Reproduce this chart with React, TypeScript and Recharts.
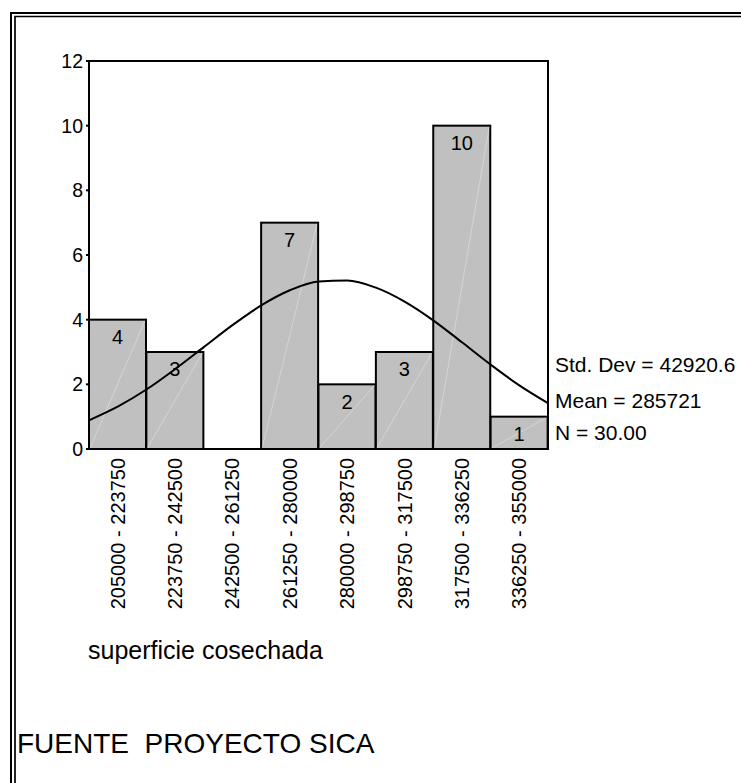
import React from 'react';
import {
  ComposedChart,
  Bar,
  Line,
  XAxis,
  YAxis,
  LabelList,
  ReferenceArea,
} from 'recharts';

const FONT = '"Liberation Sans", Arial, sans-serif';

// Histogram bins (categories) and frequencies
const ranges = [
  '205000 - 223750',
  '223750 - 242500',
  '242500 - 261250',
  '261250 - 280000',
  '280000 - 298750',
  '298750 - 317500',
  '317500 - 336250',
  '336250 - 355000',
];
const counts = [4, 3, 0, 7, 2, 3, 10, 1];

// Fitted normal curve
const curveX = [
  205000, 214375, 223750, 233125, 242500, 251875, 261250, 270625, 280000,
  289375, 298750, 308125, 317500, 326875, 336250, 345625, 355000,
];
const curveY = [
  0.89, 1.31, 1.84, 2.47, 3.15, 3.83, 4.44, 4.91, 5.18, 5.21, 4.99, 4.56,
  3.98, 3.3, 2.61, 1.97, 1.42,
];

const yTicks = [0, 2, 4, 6, 8, 10, 12];
const statLines = ['Std. Dev = 42920.6', 'Mean = 285721', 'N = 30.00'];
const axisTitle = 'superficie cosechada';
const sourceNote = 'FUENTE  PROYECTO SICA';

const barData = ranges.map((r, i) => ({ range: r, count: counts[i] }));
const curveData = curveX.map((x, i) => ({ x, y: curveY[i] }));

const HistBar = (props: any) => {
  const { x, y, width, height } = props;
  if (!height || height <= 0) return null;
  return (
    <g>
      <rect x={x} y={y} width={width} height={height} fill="#c0c0c0" stroke="#000" strokeWidth={2} />
      <line
        x1={x + 1}
        y1={y + height - 1}
        x2={x + width - 1}
        y2={y + 1}
        stroke="#ffffff"
        strokeOpacity={0.55}
        strokeWidth={0.6}
      />
    </g>
  );
};

const XTick = (props: any) => {
  const { x, y, payload } = props;
  return (
    <text
      x={x}
      y={y + 1}
      transform={`rotate(-90, ${x}, ${y + 1})`}
      textAnchor="end"
      dominantBaseline="central"
      fontSize={20}
      fontFamily={FONT}
      fill="#000"
    >
      {payload.value}
    </text>
  );
};

export default function App() {
  return (
    <div style={{ position: 'absolute', left: 0, top: 0, width: 741, height: 783, background: '#fff' }}>
      <ComposedChart
        width={741}
        height={783}
        data={barData}
        margin={{ top: 61, right: 193, left: 0, bottom: 174 }}
        barCategoryGap={0}
        barGap={0}
      >
        <XAxis
          dataKey="range"
          xAxisId="cat"
          height={160}
          interval={0}
          tickLine={false}
          axisLine={{ stroke: '#000', strokeWidth: 2 }}
          tick={<XTick />}
        />
        <XAxis
          xAxisId="num"
          dataKey="x"
          type="number"
          domain={[205000, 355000]}
          hide
          allowDataOverflow
        />
        <YAxis
          domain={[0, 12]}
          ticks={yTicks}
          width={89}
          tickSize={3}
          tickMargin={3}
          interval={0}
          axisLine={{ stroke: '#000', strokeWidth: 2 }}
          tickLine={{ stroke: '#000', strokeWidth: 2 }}
          tick={{ fontSize: 19.5, fill: '#000', fontFamily: FONT }}
        />
        <ReferenceArea
          xAxisId="num"
          x1={205000}
          x2={355000}
          y1={0}
          y2={12}
          fill="none"
          fillOpacity={0}
          stroke="#000"
          strokeWidth={2}
          ifOverflow="visible"
        />
        <Bar
          xAxisId="cat"
          dataKey="count"
          shape={<HistBar />}
          isAnimationActive={false}
        >
          <LabelList
            dataKey="count"
            position="insideTop"
            offset={10}
            formatter={(v: any) => (v ? String(v) : '')}
            style={{ fontSize: 20, fill: '#000', fontFamily: FONT }}
          />
        </Bar>
        <Line
          xAxisId="num"
          data={curveData}
          dataKey="y"
          type="monotone"
          stroke="#000"
          strokeWidth={2}
          dot={false}
          activeDot={false}
          isAnimationActive={false}
        />
      </ComposedChart>
      <svg
        width={741}
        height={783}
        style={{ position: 'absolute', left: 0, top: 0, pointerEvents: 'none' }}
      >
        <polyline points="11,783 11,13 741,13" fill="none" stroke="#000" strokeWidth={2} />
        <polyline points="15,783 15,16.5 741,16.5" fill="none" stroke="#000" strokeWidth={1.7} />
        {statLines.map((s, i) => (
          <text
            key={s}
            x={555}
            y={[372, 408, 440][i]}
            fontSize={21}
            fontFamily={FONT}
            fill="#000"
          >
            {s}
          </text>
        ))}
        <text x={88} y={659} fontSize={25} fontFamily={FONT} fill="#000">
          {axisTitle}
        </text>
        <text x={17} y={753} fontSize={28} fontFamily={FONT} fill="#000" style={{ whiteSpace: 'pre' }}>
          {sourceNote}
        </text>
      </svg>
    </div>
  );
}
